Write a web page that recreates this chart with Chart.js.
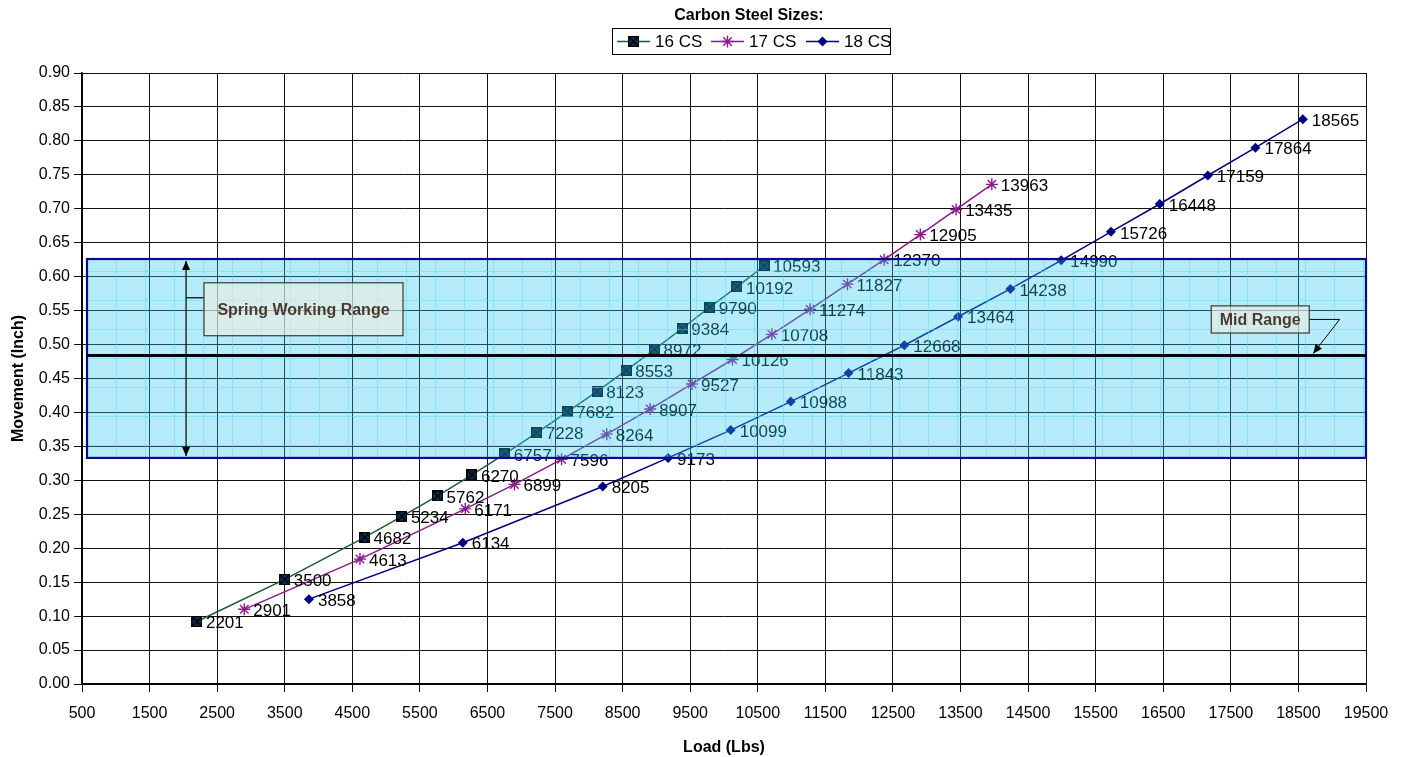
<!DOCTYPE html>
<html>
<head>
<meta charset="utf-8">
<script src="https://cdn.jsdelivr.net/npm/chart.js@4.4.1/dist/chart.umd.min.js"></script>
<style>
  body { margin: 0; background: #fff; }
  canvas { display: block; }
</style>
</head>
<body>
<canvas id="springChart" width="1408" height="757"></canvas>
<script>
// data
const seriesNames = ["16 CS", "17 CS", "18 CS"];
const loads16 = [2201, 3500, 4682, 5234, 5762, 6270, 6757, 7228, 7682, 8123, 8553, 8972, 9384, 9790, 10192, 10593];
const move16 = [0.092, 0.154, 0.216, 0.247, 0.277, 0.308, 0.339, 0.370, 0.401, 0.431, 0.462, 0.493, 0.524, 0.555, 0.585, 0.616];
const loads17 = [2901, 4613, 6171, 6899, 7596, 8264, 8907, 9527, 10126, 10708, 11274, 11827, 12370, 12905, 13435, 13963];
const move17 = [0.110, 0.184, 0.258, 0.294, 0.331, 0.368, 0.405, 0.442, 0.478, 0.515, 0.552, 0.589, 0.625, 0.662, 0.699, 0.736];
const loads18 = [3858, 6134, 8205, 9173, 10099, 10988, 11843, 12668, 13464, 14238, 14990, 15726, 16448, 17159, 17864, 18565];
const move18 = [0.125, 0.208, 0.291, 0.333, 0.374, 0.416, 0.458, 0.499, 0.541, 0.582, 0.624, 0.666, 0.707, 0.749, 0.790, 0.832];
const xTicks = [500, 1500, 2500, 3500, 4500, 5500, 6500, 7500, 8500, 9500, 10500, 11500, 12500, 13500, 14500, 15500, 16500, 17500, 18500, 19500];
const yTicks = [0, 0.05, 0.10, 0.15, 0.20, 0.25, 0.30, 0.35, 0.40, 0.45, 0.50, 0.55, 0.60, 0.65, 0.70, 0.75, 0.80, 0.85, 0.90];
// working range band (movement) and its mid line
const rangeLow = 0.333;
const rangeHigh = 0.626;
const rangeMid = 0.484;

const FONT = "'Liberation Sans', Arial, sans-serif";

const toPoints = (xs, ys) => xs.map((x, i) => ({ x: x, y: ys[i] }));

// square with an X for 16 CS
const makeBoxX = () => {
  const c = document.createElement("canvas");
  c.width = 11; c.height = 11;
  const g = c.getContext("2d");
  g.fillStyle = "#0c2f55";
  g.fillRect(0, 0, 11, 11);
  g.strokeStyle = "#000";
  g.lineWidth = 1.4;
  g.beginPath();
  g.moveTo(1, 1); g.lineTo(10, 10);
  g.moveTo(10, 1); g.lineTo(1, 10);
  g.stroke();
  g.strokeRect(0.5, 0.5, 10, 10);
  return c;
};
const boxX = makeBoxX();

const lineColors = ["#1e5a32", "#8b1a8b", "#000080"];

// draws the value labels next to each point
const pointLabels = {
  id: "pointLabels",
  afterDatasetsDraw(chart) {
    const ctx = chart.ctx;
    ctx.save();
    ctx.font = "17px " + FONT;
    ctx.fillStyle = "#000";
    ctx.textAlign = "left";
    ctx.textBaseline = "middle";
    chart.data.datasets.forEach((ds, i) => {
      chart.getDatasetMeta(i).data.forEach((pt, j) => {
        ctx.fillText(String(ds.data[j].x), pt.x + 9, pt.y + 2);
      });
    });
    ctx.restore();
  },
};

const arrowHead = (ctx, x, y, dx, dy, size) => {
  const len = Math.hypot(dx, dy);
  const ux = dx / len, uy = dy / len;
  ctx.beginPath();
  ctx.moveTo(x, y);
  ctx.lineTo(x - ux * size - uy * size * 0.45, y - uy * size + ux * size * 0.45);
  ctx.lineTo(x - ux * size + uy * size * 0.45, y - uy * size - ux * size * 0.45);
  ctx.closePath();
  ctx.fill();
};

const calloutBox = (ctx, x1, y1, x2, y2, text) => {
  ctx.fillStyle = "rgba(238,236,224,0.62)";
  ctx.fillRect(x1, y1, x2 - x1, y2 - y1);
  ctx.strokeStyle = "#3a3a3a";
  ctx.lineWidth = 1.2;
  ctx.strokeRect(x1, y1, x2 - x1, y2 - y1);
  ctx.fillStyle = "#4a3a30";
  ctx.font = "bold 16px " + FONT;
  ctx.textAlign = "center";
  ctx.textBaseline = "middle";
  ctx.fillText(text, (x1 + x2) / 2, (y1 + y2) / 2 + 1);
};

// shaded working range, mid line and callouts, drawn over the plot like the original
const rangeBand = {
  id: "rangeBand",
  afterDraw(chart) {
    const ctx = chart.ctx;
    const xs = chart.scales.x, ys = chart.scales.y;
    const left = xs.getPixelForValue(574);
    const right = xs.getPixelForValue(19500);
    const top = ys.getPixelForValue(rangeHigh);
    const bottom = ys.getPixelForValue(rangeLow);
    ctx.save();
    ctx.fillStyle = "rgba(40,200,240,0.34)";
    ctx.fillRect(left, top, right - left, bottom - top);
    // faint texture lines
    ctx.strokeStyle = "rgba(90,215,250,0.5)";
    ctx.lineWidth = 1;
    ctx.beginPath();
    for (let x = left + 29; x < right; x += 29) {
      ctx.moveTo(Math.round(x) + 0.5, top);
      ctx.lineTo(Math.round(x) + 0.5, bottom);
    }
    for (let y = top + 12; y < bottom; y += 29) {
      ctx.moveTo(left, Math.round(y) + 0.5);
      ctx.lineTo(right, Math.round(y) + 0.5);
    }
    ctx.stroke();
    ctx.strokeStyle = "#0a0a8c";
    ctx.lineWidth = 2.2;
    ctx.strokeRect(left, top, right - left, bottom - top);

    // mid range line
    const midY = ys.getPixelForValue(rangeMid);
    ctx.strokeStyle = "#000";
    ctx.lineWidth = 3;
    ctx.beginPath();
    ctx.moveTo(left, midY);
    ctx.lineTo(right, midY);
    ctx.stroke();

    // double arrow for the working range
    const ax = xs.getPixelForValue(2040);
    ctx.lineWidth = 1.2;
    ctx.fillStyle = "#000";
    ctx.beginPath();
    ctx.moveTo(ax, top + 2);
    ctx.lineTo(ax, bottom - 2);
    ctx.stroke();
    arrowHead(ctx, ax, top + 2, 0, -1, 9);
    arrowHead(ctx, ax, bottom - 2, 0, 1, 9);

    const sx1 = xs.getPixelForValue(2305), sx2 = xs.getPixelForValue(5250);
    const sy1 = ys.getPixelForValue(0.591), sy2 = ys.getPixelForValue(0.513);
    ctx.beginPath();
    ctx.moveTo(ax, sy1 + 15);
    ctx.lineTo(sx1, sy1 + 15);
    ctx.stroke();
    calloutBox(ctx, sx1, sy1, sx2, sy2, "Spring Working Range");

    // mid range callout
    const mx1 = xs.getPixelForValue(17210), mx2 = xs.getPixelForValue(18660);
    const my1 = ys.getPixelForValue(0.557), my2 = ys.getPixelForValue(0.517);
    const myc = (my1 + my2) / 2;
    const bendX = xs.getPixelForValue(19110);
    const tipX = xs.getPixelForValue(18720);
    ctx.strokeStyle = "#000";
    ctx.lineWidth = 1;
    ctx.beginPath();
    ctx.moveTo(mx2, myc);
    ctx.lineTo(bendX, myc);
    ctx.lineTo(tipX, midY - 2);
    ctx.stroke();
    ctx.fillStyle = "#000";
    arrowHead(ctx, tipX, midY - 2, tipX - bendX, midY - 2 - myc, 9);
    calloutBox(ctx, mx1, my1, mx2, my2, "Mid Range");
    ctx.restore();
  },
};

// legend box with its title, as in the original
const legendBox = {
  id: "legendBox",
  afterDraw(chart) {
    const ctx = chart.ctx;
    ctx.save();
    ctx.fillStyle = "#000";
    ctx.font = "bold 16px " + FONT;
    ctx.textAlign = "center";
    ctx.textBaseline = "middle";
    ctx.fillText("Carbon Steel Sizes:", 749, 16);
    ctx.strokeStyle = "#000";
    ctx.lineWidth = 1;
    ctx.strokeRect(612.5, 28.5, 278, 26);
    const starts = [617, 711, 806];
    ctx.font = "17px " + FONT;
    ctx.textAlign = "left";
    chart.data.datasets.forEach((ds, i) => {
      const x0 = starts[i];
      const y0 = 41.5;
      ctx.strokeStyle = ds.borderColor;
      ctx.lineWidth = 1.5;
      ctx.beginPath();
      ctx.moveTo(x0, y0);
      ctx.lineTo(x0 + 33, y0);
      ctx.stroke();
      const cx = x0 + 16.5;
      if (i === 0) {
        ctx.drawImage(boxX, cx - 5.5, y0 - 5.5);
      } else if (i === 1) {
        ctx.strokeStyle = ds.pointBorderColor;
        ctx.lineWidth = 1.4;
        ctx.beginPath();
        for (let k = 0; k < 4; k++) {
          const a = k * Math.PI / 4;
          ctx.moveTo(cx - 6 * Math.cos(a), y0 - 6 * Math.sin(a));
          ctx.lineTo(cx + 6 * Math.cos(a), y0 + 6 * Math.sin(a));
        }
        ctx.stroke();
      } else {
        ctx.fillStyle = ds.pointBackgroundColor;
        ctx.beginPath();
        ctx.moveTo(cx, y0 - 5); ctx.lineTo(cx + 5, y0);
        ctx.lineTo(cx, y0 + 5); ctx.lineTo(cx - 5, y0);
        ctx.closePath();
        ctx.fill();
      }
      ctx.fillStyle = "#000";
      ctx.fillText(ds.label, x0 + 38, y0 + 1);
    });
    ctx.restore();
  },
};

const ctx = document.getElementById("springChart").getContext("2d");
new Chart(ctx, {
  type: "scatter",
  data: {
    datasets: [
      {
        label: seriesNames[0],
        data: toPoints(loads16, move16),
        showLine: true,
        borderColor: lineColors[0],
        borderWidth: 1.5,
        pointStyle: boxX,
        pointRadius: 5.5,
        pointBackgroundColor: "#0c2f55",
        pointBorderColor: "#000",
      },
      {
        label: seriesNames[1],
        data: toPoints(loads17, move17),
        showLine: true,
        borderColor: lineColors[1],
        borderWidth: 1.5,
        pointStyle: "star",
        pointRadius: 6,
        pointBorderWidth: 1.4,
        pointBackgroundColor: "#8b1a8b",
        pointBorderColor: "#8b1a8b",
      },
      {
        label: seriesNames[2],
        data: toPoints(loads18, move18),
        showLine: true,
        borderColor: lineColors[2],
        borderWidth: 1.5,
        pointStyle: "rectRot",
        pointRadius: 5,
        pointBorderWidth: 0,
        pointBackgroundColor: "#000080",
        pointBorderColor: "#000080",
      },
    ],
  },
  options: {
    responsive: false,
    animation: false,
    devicePixelRatio: 1,
    layout: { padding: { top: 73, right: 42, left: 0, bottom: 0 } },
    plugins: {
      legend: { display: false },
      tooltip: { enabled: false },
    },
    scales: {
      x: {
        type: "linear",
        min: 500,
        max: 19500,
        afterBuildTicks: (scale) => {
          scale.ticks = xTicks.map((v) => ({ value: v }));
        },
        afterFit: (scale) => {
          scale.height = 73;
        },
        grid: { color: "#111", lineWidth: 1, tickLength: 8, drawTicks: true },
        border: { color: "#000", width: 1.5 },
        ticks: {
          autoSkip: false,
          maxRotation: 0,
          padding: 12,
          color: "#000",
          font: { family: FONT, size: 16 },
          callback: (v) => String(v),
        },
        title: {
          display: true,
          text: "Load (Lbs)",
          color: "#000",
          font: { family: FONT, size: 16, weight: "bold" },
          padding: { top: 6, bottom: 0 },
        },
      },
      y: {
        type: "linear",
        min: 0,
        max: 0.9,
        afterBuildTicks: (scale) => {
          scale.ticks = yTicks.map((v) => ({ value: v }));
        },
        afterFit: (scale) => {
          scale.width = 82;
        },
        grid: { color: "#111", lineWidth: 1, tickLength: 8, drawTicks: true },
        border: { color: "#000", width: 1.5 },
        ticks: {
          autoSkip: false,
          padding: 4,
          color: "#000",
          font: { family: FONT, size: 16 },
          callback: (v) => Number(v).toFixed(2),
        },
        title: {
          display: true,
          text: "Movement (Inch)",
          color: "#000",
          font: { family: FONT, size: 16, weight: "bold" },
          padding: { top: 9, bottom: 0 },
        },
      },
    },
  },
  plugins: [pointLabels, rangeBand, legendBox],
});
</script>
</body>
</html>
